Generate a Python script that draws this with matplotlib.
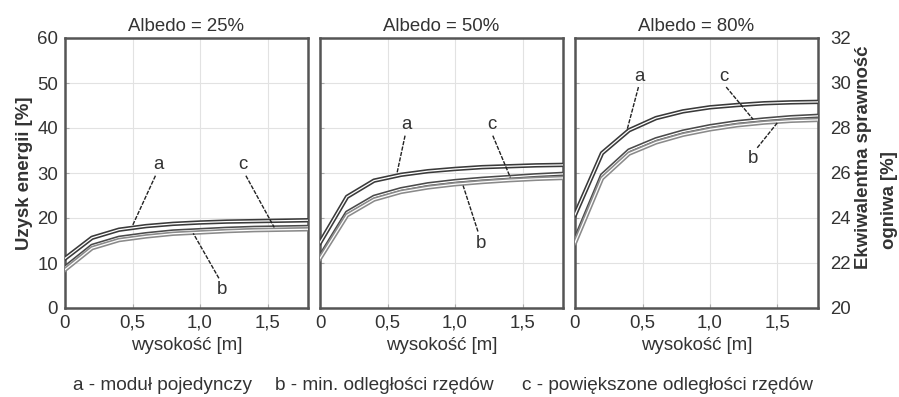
import matplotlib
matplotlib.use("Agg")
import matplotlib.pyplot as plt
import matplotlib.patheffects as pe

plt.rcParams['font.family'] = ['Liberation Sans', 'DejaVu Sans']

x = [0.0, 0.2, 0.4, 0.6, 0.8, 1.0, 1.2, 1.4, 1.6, 1.8]

titles = ["Albedo = 25%", "Albedo = 50%", "Albedo = 80%"]

a_vals = [
    [11.0, 15.6, 17.4, 18.2, 18.7, 19.0, 19.2, 19.3, 19.4, 19.5],
    [14.5, 24.7, 28.3, 29.6, 30.4, 30.9, 31.3, 31.5, 31.7, 31.8],
    [20.7, 34.4, 39.5, 42.2, 43.7, 44.6, 45.1, 45.5, 45.7, 45.8],
]
c_vals = [
    [9.0, 13.8, 15.6, 16.4, 17.0, 17.3, 17.6, 17.8, 17.9, 18.0],
    [11.4, 21.2, 24.7, 26.4, 27.5, 28.2, 28.7, 29.1, 29.5, 29.8],
    [15.1, 29.5, 35.0, 37.5, 39.2, 40.4, 41.3, 41.9, 42.4, 42.7],
]
b_vals = [
    [8.5, 13.3, 15.1, 15.9, 16.5, 16.8, 17.1, 17.3, 17.4, 17.5],
    [11.0, 20.6, 24.1, 25.8, 26.8, 27.5, 28.0, 28.4, 28.7, 28.9],
    [14.5, 28.8, 34.3, 36.8, 38.5, 39.7, 40.6, 41.2, 41.6, 41.8],
]

# annotation: (label, text_xy, leader_start, leader_end) in data coords
annotations = [
    [("a", (0.69, 31.8), (0.67, 29.4), (0.50, 18.3)),
     ("c", (1.32, 31.8), (1.34, 29.4), (1.55, 17.9)),
     ("b", (1.16, 4.0), (1.14, 6.6), (0.95, 16.6))],
    [("a", (0.64, 40.7), (0.63, 38.3), (0.57, 29.9)),
     ("c", (1.27, 40.7), (1.28, 38.3), (1.41, 29.0)),
     ("b", (1.19, 14.4), (1.17, 17.0), (1.06, 27.2))],
    [("a", (0.48, 51.5), (0.47, 49.1), (0.385, 39.5)),
     ("c", (1.10, 51.5), (1.12, 49.1), (1.32, 41.9)),
     ("b", (1.32, 33.3), (1.35, 35.6), (1.50, 41.2))],
]

xticks = [0, 0.5, 1.0, 1.5]
xticklabels = ["0", "0,5", "1,0", "1,5"]
yticks = [0, 10, 20, 30, 40, 50, 60]
yticks_right = [20, 22, 24, 26, 28, 30, 32]

W, H = 899, 397
fig = plt.figure(figsize=(W / 100, H / 100), dpi=100)

lefts = [65, 320, 575]
ax_w = 243
ax_top = 38
ax_bot = 308

txt_color = '#333333'
frame_color = '#555555'
FS = 13.4

def double_line(ax, xs, ys, dark):
    ax.plot(xs, ys, color='white', lw=0.9, zorder=3,
            path_effects=[pe.Stroke(linewidth=3.2, foreground=dark), pe.Normal()])

for i in range(3):
    ax = fig.add_axes([lefts[i] / W, 1 - ax_bot / H, ax_w / W, (ax_bot - ax_top) / H])
    ax.set_xlim(0, 1.8)
    ax.set_ylim(0, 60)
    ax.grid(True, color='#e2e2e2', lw=0.8)
    ax.set_axisbelow(True)
    for s in ax.spines.values():
        s.set_color(frame_color)
        s.set_linewidth(1.8)
    ax.set_xticks(xticks)
    ax.set_xticklabels(xticklabels)
    ax.set_yticks(yticks)
    ax.tick_params(direction='in', length=3, color='#aaaaaa', labelsize=FS,
                   labelcolor=txt_color, pad=5)
    if i > 0:
        ax.set_yticklabels([])
    ax.set_xlabel("wysokość [m]", fontsize=FS, color=txt_color, labelpad=4)
    ax.set_title(titles[i], fontsize=FS, color=txt_color, pad=5)

    double_line(ax, x, a_vals[i], '#3a3a3a')
    double_line(ax, x, c_vals[i], '#4a4a4a')
    double_line(ax, x, b_vals[i], '#8a8a8a')

    for lab, txy, s0, s1 in annotations[i]:
        ax.text(txy[0], txy[1], lab, fontsize=FS, color=txt_color,
                ha='center', va='center', zorder=5)
        ax.plot([s0[0], s1[0]], [s0[1], s1[1]], color='#222222',
                lw=1.0, ls=(0, (3, 1)), zorder=4)

    if i == 0:
        ax.set_ylabel("Uzysk energii [%]", fontsize=FS, fontweight='bold',
                      color=txt_color, labelpad=3)
    if i == 2:
        ax2 = ax.twinx()
        ax2.set_ylim(20, 32)
        ax2.set_yticks(yticks_right)
        ax2.tick_params(direction='in', length=0, labelsize=FS,
                        labelcolor=txt_color, pad=9)
        for s in ax2.spines.values():
            s.set_visible(False)

fig.text(864 / W, 1 - 157 / H, "Ekwiwalentna sprawność", fontsize=FS,
         fontweight='bold', color=txt_color, rotation=90, ha='center', va='center')
fig.text(889 / W, 1 - 200 / H, "ogniwa [%]", fontsize=FS,
         fontweight='bold', color=txt_color, rotation=90, ha='center', va='center')

legend_items = [("a - moduł pojedynczy", 73), ("b - min. odległości rzędów", 275),
                ("c - powiększone odległości rzędów", 522)]
for t, px in legend_items:
    fig.text(px / W, 1 - 385 / H, t, fontsize=13.7, color=txt_color,
             ha='left', va='center')

fig.savefig("out.png", dpi=100)
